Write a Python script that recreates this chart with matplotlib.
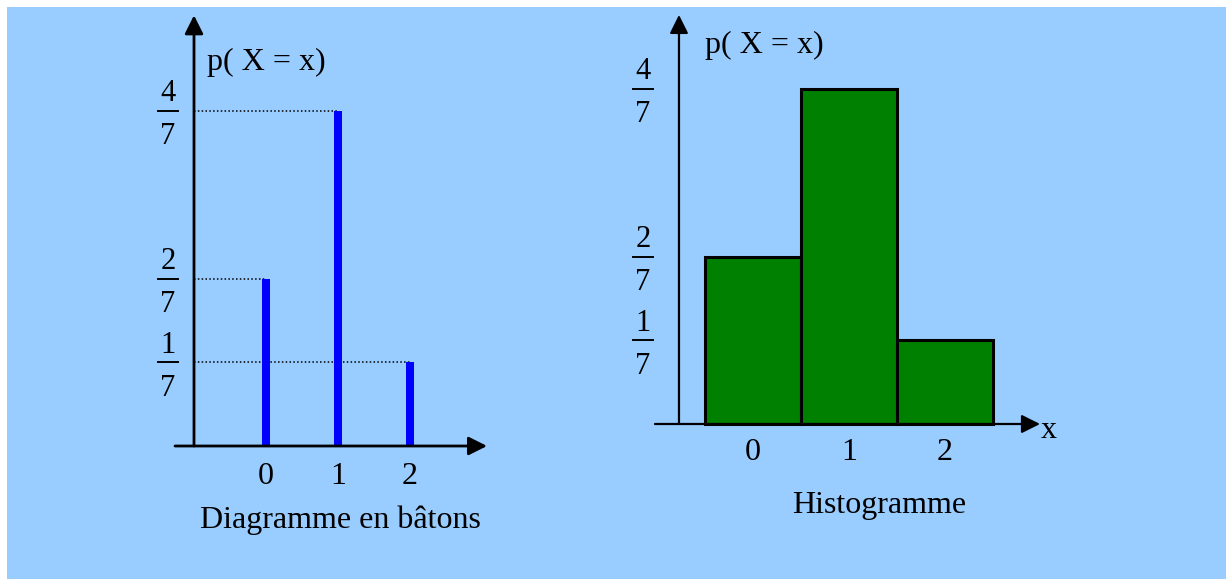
import matplotlib
matplotlib.use('agg')
import matplotlib.pyplot as plt
from matplotlib.patches import Rectangle

plt.rcParams['font.family'] = ['Liberation Serif', 'DejaVu Serif']

# values of X and their probabilities
x_vals = [0, 1, 2]
probs = [2 / 7, 4 / 7, 1 / 7]
tick_labels = ['0', '1', '2']
frac_levels = [1 / 7, 2 / 7, 4 / 7]
frac_num = ['1', '2', '4']
frac_den = ['7', '7', '7']

W, H = 1226, 579
BG = '#99CCFF'
FS = 23


def px_axes(fig, left, right, top, bottom):
    # place an axes from pixel edges
    return fig.add_axes([left / W, 1 - bottom / H, (right - left) / W, (bottom - top) / H])


def arrow(ax, start, end, lw):
    ax.annotate('', xy=end, xytext=start,
                arrowprops=dict(arrowstyle='-|>', color='black', lw=lw,
                                mutation_scale=28, shrinkA=0, shrinkB=0))


def fraction(ax, xc, y, num, den, half):
    ax.plot([xc - half, xc + half], [y, y], color='black', lw=1.4, clip_on=False)
    ax.annotate(num, (xc, y), xytext=(0, 7), textcoords='offset points',
                ha='center', va='baseline', fontsize=22)
    ax.annotate(den, (xc, y), xytext=(0, -24), textcoords='offset points',
                ha='center', va='baseline', fontsize=22)


fig = plt.figure(figsize=(W / 100, H / 100), dpi=100, facecolor='white')
fig.add_artist(Rectangle((7 / W, 0), 1, 1 - 7 / H, transform=fig.transFigure,
                         facecolor=BG, edgecolor='none', zorder=-10))

# ---- left: diagramme en batons ----
ax1 = px_axes(fig, 158, 496.4, 6.5, 475.3)
ax1.set_xlim(-1.5, 3.2)
ax1.set_ylim(-0.05, 0.75)
ax1.axis('off')

ax1.bar(x_vals, probs, width=0.11, color='#0000FF', zorder=3)
ax1.hlines(probs, -1, x_vals, colors='black', lw=1.1, linestyles=(0, (1, 1.5)), zorder=2)
arrow(ax1, (-1.264, 0), (3.07, 0), 2)
arrow(ax1, (-1, 0), (-1, 0.735), 2)

for xv, lab in zip(x_vals, tick_labels):
    ax1.annotate(lab, (xv, 0), xytext=(0, -27.5), textcoords='offset points',
                 ha='center', va='baseline', fontsize=FS)
for lv, n, d in zip(frac_levels, frac_num, frac_den):
    fraction(ax1, -1.361, lv, n, d, 0.14)

ax1.text(-0.82, 0.642, 'p( X = x)', fontsize=FS, ha='left', va='baseline')
ax1.text(1.03, -0.14, 'Diagramme en bâtons', fontsize=FS, ha='center', va='baseline')

# ---- right: histogramme ----
ax2 = px_axes(fig, 637.8, 1079.4, 2, 453.3)
ax2.set_xlim(-1.2, 3.4)
ax2.set_ylim(-0.05, 0.72)
ax2.axis('off')

ax2.bar(x_vals, probs, width=1, color='#008000', edgecolor='black', lw=2.2, zorder=3)
arrow(ax2, (-1.021, 0), (2.99, 0), 1.6)
arrow(ax2, (-0.771, 0), (-0.771, 0.698), 1.6)

for xv, lab in zip(x_vals, tick_labels):
    ax2.annotate(lab, (xv, 0), xytext=(0, -26), textcoords='offset points',
                 ha='center', va='baseline', fontsize=FS)
for lv, n, d in zip(frac_levels, frac_num, frac_den):
    fraction(ax2, -1.146, lv, n, d, 0.104)

ax2.text(3.0, -0.024, 'x', fontsize=FS, ha='left', va='baseline')
ax2.text(-0.5, 0.633, 'p( X = x)', fontsize=FS, ha='left', va='baseline')
ax2.text(1.31, -0.152, 'Histogramme', fontsize=FS, ha='center', va='baseline')

fig.savefig('out.png', dpi=100, facecolor=fig.get_facecolor())
plt.close(fig)
